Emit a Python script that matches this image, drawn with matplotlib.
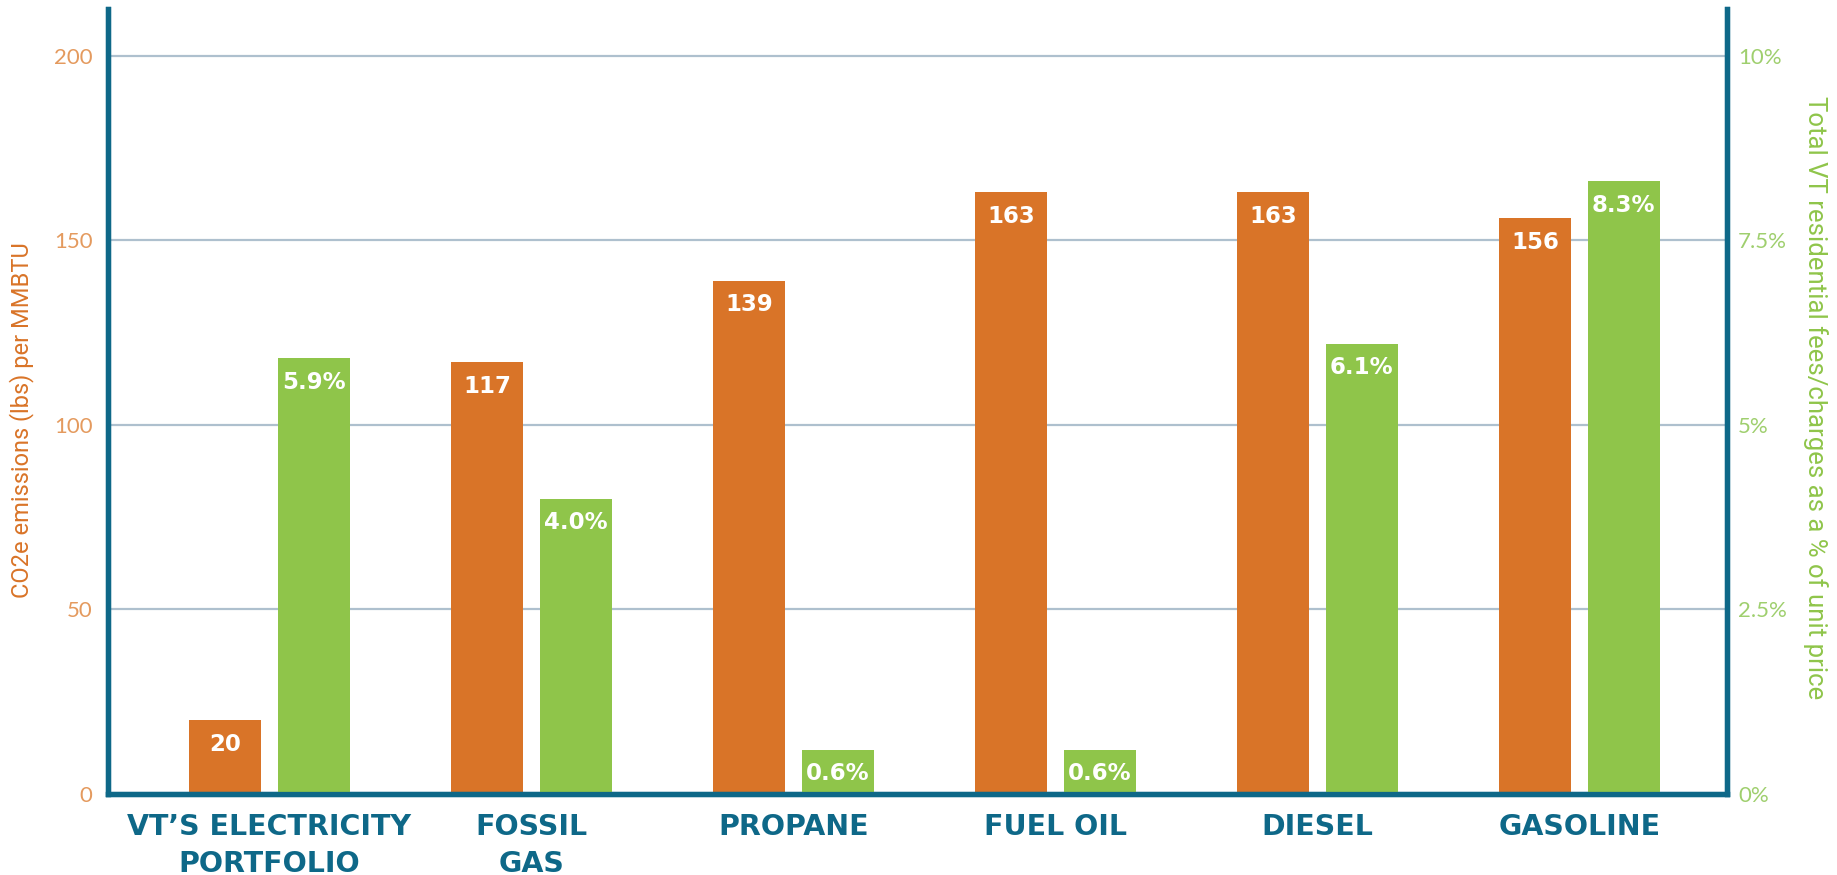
import matplotlib
matplotlib.use("Agg")
import matplotlib.pyplot as plt
import numpy as np

categories = ["VT\u2019S ELECTRICITY\nPORTFOLIO", "FOSSIL\nGAS", "PROPANE", "FUEL OIL", "DIESEL", "GASOLINE"]
co2_values = [20, 117, 139, 163, 163, 156]
fee_values = [5.9, 4.0, 0.6, 0.6, 6.1, 8.3]
left_ticks = [0, 50, 100, 150, 200]
right_ticks = [0, 2.5, 5, 7.5, 10]
right_tick_labels = ["0%", "2.5%", "5%", "7.5%", "10%"]

ORANGE = "#D97428"
GREEN = "#8FC54A"
TEAL = "#0E6888"
GRID = "#AEC0CE"
LEFT_TICK = "#E49A5E"
RIGHT_TICK = "#9FCF6E"

fig = plt.figure(figsize=(18.37, 8.75), dpi=100)
ax = fig.add_axes([0.0588, 0.0926, 0.8813, 0.8971])
ax2 = ax.twinx()

x = np.arange(len(categories))
w = 0.275
off = 0.169

ax.set_xlim(-0.616, 5.563)
ax.set_ylim(0, 212.7)
ax2.set_ylim(0, 212.7 / 20)

ax.set_yticks(left_ticks)
ax.set_yticklabels([str(t) for t in left_ticks])
ax2.set_yticks(right_ticks)
ax2.set_yticklabels(right_tick_labels)

for t in left_ticks[1:]:
    ax.axhline(t, color=GRID, lw=1.6, zorder=0)

bars1 = ax.bar(x - off, co2_values, width=w, color=ORANGE, zorder=2)
bars2 = ax2.bar(x + off, fee_values, width=w, color=GREEN, zorder=2)

lab_font = dict(family=["DejaVu Sans"], fontsize=16.5, fontweight="bold", color="white",
                ha="center", va="center")
for xi, v in zip(x, co2_values):
    ax.annotate(str(v), (xi - off, v), xytext=(0, -24), textcoords="offset pixels", zorder=3, **lab_font)
for xi, v in zip(x, fee_values):
    ax2.annotate(f"{v:.1f}%", (xi + off, v), xytext=(0, -24), textcoords="offset pixels", zorder=3, **lab_font)

ax.set_xticks(x)
ax.set_xticklabels(categories, fontsize=20.5, fontweight="bold", color=TEAL,
                   family=["DejaVu Sans"], linespacing=1.4)
ax.tick_params(axis="x", length=0, pad=14)
ax.tick_params(axis="y", length=0, pad=11, labelsize=16, labelcolor=LEFT_TICK)
ax2.tick_params(axis="y", length=0, pad=8, labelsize=16, labelcolor=RIGHT_TICK)
for lab in ax.get_yticklabels() + ax2.get_yticklabels():
    lab.set_family(["Lato", "DejaVu Sans"])
    lab.set_fontweight("normal")

for a in (ax, ax2):
    a.spines["top"].set_visible(False)
    for s in ("left", "right", "bottom"):
        a.spines[s].set_color(TEAL)
        a.spines[s].set_linewidth(3.8)
        a.spines[s].set_capstyle("projecting")

fig.text(0.0115, 0.52, "CO2e emissions (lbs) per MMBTU", rotation=90, color=ORANGE,
         fontsize=17, family=["Roboto", "DejaVu Sans"], ha="center", va="center")
fig.text(0.9885, 0.545, "Total VT residential fees/charges as a % of unit price", rotation=270,
         color=GREEN, fontsize=18.5, family=["Roboto", "DejaVu Sans"], ha="center", va="center")

fig.savefig("out.png", dpi=100, facecolor="white")
